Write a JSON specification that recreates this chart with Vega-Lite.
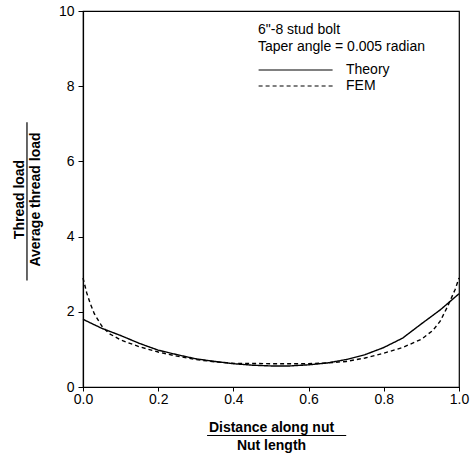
{
  "$schema": "https://vega.github.io/schema/vega-lite/v6.json",
  "width": 376,
  "height": 376,
  "autosize": {"type": "none"},
  "padding": {"left": 83, "top": 11, "right": 11, "bottom": 69},
  "background": "white",
  "config": {
    "font": "Liberation Sans",
    "view": {"stroke": "black", "strokeWidth": 1.2},
    "axis": {
      "grid": false,
      "domainColor": "black",
      "domainWidth": 1.2,
      "tickColor": "black",
      "labelColor": "black",
      "titleColor": "black",
      "labelFontSize": 14,
      "titleFontSize": 14,
      "titleFontWeight": "bold",
      "labelFont": "Liberation Sans",
      "titleFont": "Liberation Sans"
    }
  },
  "layer": [
    {
      "data": {
        "values": [
          {"x": 0.0, "load": 1.8, "series": "Theory"},
          {"x": 0.05, "load": 1.56, "series": "Theory"},
          {"x": 0.1, "load": 1.37, "series": "Theory"},
          {"x": 0.15, "load": 1.16, "series": "Theory"},
          {"x": 0.2, "load": 0.98, "series": "Theory"},
          {"x": 0.25, "load": 0.86, "series": "Theory"},
          {"x": 0.3, "load": 0.75, "series": "Theory"},
          {"x": 0.35, "load": 0.68, "series": "Theory"},
          {"x": 0.4, "load": 0.62, "series": "Theory"},
          {"x": 0.45, "load": 0.58, "series": "Theory"},
          {"x": 0.5, "load": 0.56, "series": "Theory"},
          {"x": 0.55, "load": 0.56, "series": "Theory"},
          {"x": 0.6, "load": 0.59, "series": "Theory"},
          {"x": 0.65, "load": 0.64, "series": "Theory"},
          {"x": 0.7, "load": 0.73, "series": "Theory"},
          {"x": 0.75, "load": 0.86, "series": "Theory"},
          {"x": 0.8, "load": 1.05, "series": "Theory"},
          {"x": 0.85, "load": 1.3, "series": "Theory"},
          {"x": 0.9, "load": 1.68, "series": "Theory"},
          {"x": 0.95, "load": 2.05, "series": "Theory"},
          {"x": 1.0, "load": 2.48, "series": "Theory"},
          {"x": 0.0, "load": 2.9, "series": "FEM"},
          {"x": 0.01, "load": 2.5, "series": "FEM"},
          {"x": 0.02, "load": 2.2, "series": "FEM"},
          {"x": 0.03, "load": 1.95, "series": "FEM"},
          {"x": 0.05, "load": 1.62, "series": "FEM"},
          {"x": 0.07, "load": 1.42, "series": "FEM"},
          {"x": 0.1, "load": 1.25, "series": "FEM"},
          {"x": 0.15, "load": 1.07, "series": "FEM"},
          {"x": 0.2, "load": 0.93, "series": "FEM"},
          {"x": 0.25, "load": 0.82, "series": "FEM"},
          {"x": 0.3, "load": 0.73, "series": "FEM"},
          {"x": 0.35, "load": 0.67, "series": "FEM"},
          {"x": 0.4, "load": 0.63, "series": "FEM"},
          {"x": 0.5, "load": 0.62, "series": "FEM"},
          {"x": 0.6, "load": 0.62, "series": "FEM"},
          {"x": 0.65, "load": 0.64, "series": "FEM"},
          {"x": 0.7, "load": 0.68, "series": "FEM"},
          {"x": 0.75, "load": 0.77, "series": "FEM"},
          {"x": 0.8, "load": 0.9, "series": "FEM"},
          {"x": 0.85, "load": 1.05, "series": "FEM"},
          {"x": 0.9, "load": 1.27, "series": "FEM"},
          {"x": 0.93, "load": 1.5, "series": "FEM"},
          {"x": 0.95, "load": 1.75, "series": "FEM"},
          {"x": 0.97, "load": 2.15, "series": "FEM"},
          {"x": 0.99, "load": 2.6, "series": "FEM"},
          {"x": 1.0, "load": 2.9, "series": "FEM"}
        ]
      },
      "mark": {"type": "line", "color": "black", "strokeWidth": 1.4},
      "encoding": {
        "x": {
          "field": "x",
          "type": "quantitative",
          "scale": {"domain": [0, 1], "nice": false},
          "axis": {
            "values": [0, 0.1, 0.2, 0.3, 0.4, 0.5, 0.6, 0.7, 0.8, 0.9, 1.0],
            "labelExpr": "(round(datum.value*10) % 2 == 0) ? format(datum.value, '.1f') : ''",
            "tickSize": 4,
            "labelPadding": 1,
            "labelFlush": false,
            "labelOverlap": false,
            "title": ["Distance along nut", "Nut length"],
            "titleLineHeight": 18,
            "titlePadding": 14
          }
        },
        "y": {
          "field": "load",
          "type": "quantitative",
          "scale": {"domain": [0, 10], "nice": false, "zero": true},
          "axis": {
            "values": [0, 1, 2, 3, 4, 5, 6, 7, 8, 9, 10],
            "labelExpr": "(datum.value % 2 == 0) ? format(datum.value, 'd') : ''",
            "tickSize": 5,
            "labelPadding": 4,
            "labelFlush": false,
            "labelOverlap": false,
            "title": ["Thread load", "Average thread load"],
            "titleLineHeight": 16,
            "titlePadding": 16
          }
        },
        "strokeDash": {
          "field": "series",
          "type": "nominal",
          "scale": {"domain": ["Theory", "FEM"], "range": [[1, 0], [4, 3]]},
          "legend": {
            "orient": "none",
            "legendX": 175,
            "legendY": 12,
            "padding": 0,
            "title": ["6\"-8 stud bolt", "Taper angle = 0.005 radian"],
            "titleFontSize": 14,
            "titleFontWeight": "normal",
            "titleLineHeight": 17,
            "titlePadding": 8,
            "titleColor": "black",
            "labelFontSize": 14,
            "labelColor": "black",
            "labelOffset": 72,
            "symbolType": "M-1,0H9",
            "symbolSize": 219,
            "symbolStrokeWidth": 1.2,
            "symbolStrokeColor": "black",
            "rowPadding": 1
          }
        }
      }
    },
    {
      "data": {"values": [{}]},
      "mark": {"type": "rule", "color": "black", "strokeWidth": 1.2},
      "encoding": {"x": {"datum": 0.33}, "x2": {"datum": 0.7}, "y": {"datum": -1.29}}
    },
    {
      "data": {"values": [{}]},
      "mark": {"type": "rule", "color": "black", "strokeWidth": 1.2},
      "encoding": {"x": {"datum": -0.149}, "y": {"datum": 2.83}, "y2": {"datum": 7.04}}
    }
  ]
}
